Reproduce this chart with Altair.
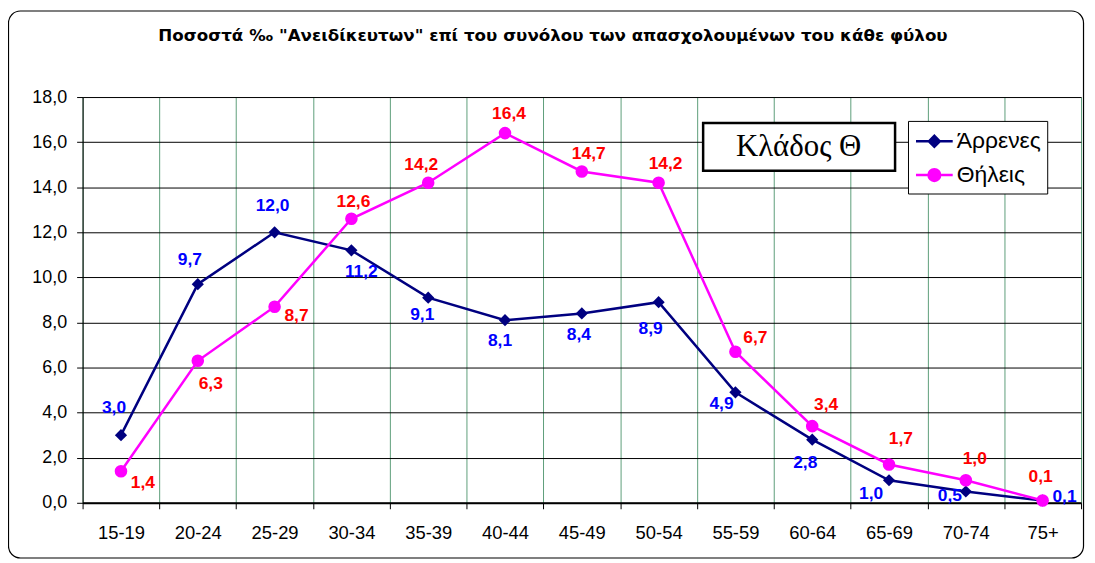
import altair as alt
import pandas as pd

TITLE = 'Ποσοστά ‰ "Ανειδίκευτων" επί του συνόλου των απασχολουμένων του κάθε φύλου'
BOX_TEXT = "Κλάδος Θ"
AGES = ["15-19", "20-24", "25-29", "30-34", "35-39", "40-44", "45-49",
        "50-54", "55-59", "60-64", "65-69", "70-74", "75+"]
SERIES = ["Άρρενες", "Θήλεις"]
MALES = [3.0, 9.7, 12.0, 11.2, 9.1, 8.1, 8.4, 8.9, 4.9, 2.8, 1.0, 0.5, 0.1]
FEMALES = [1.4, 6.3, 8.7, 12.6, 14.2, 16.4, 14.7, 14.2, 6.7, 3.4, 1.7, 1.0, 0.1]
Y_TICKS = [0, 2, 4, 6, 8, 10, 12, 14, 16, 18]

# label placement offsets (pixels, relative to each point)
MALE_LDX = [-7, -8, -2, 10, -6, -5, -3, -8, -14, -7, -18, -16, 22]
MALE_LDY = [-27, -24, -26, 22, 17, 21, 22, 27, 12, 23, 14, 5, -4]
FEMALE_LDX = [22, 13, 22, 2, -7, 4, 7, 7, 20, 14, 12, 9, -2]
FEMALE_LDY = [12, 23, 9, -17, -18, -19, -17, -19, -14, -21, -26, -21, -24]

rows = []
for vals, name, ldx, ldy in [(MALES, SERIES[0], MALE_LDX, MALE_LDY),
                             (FEMALES, SERIES[1], FEMALE_LDX, FEMALE_LDY)]:
    for a, v, dx, dy in zip(AGES, vals, ldx, ldy):
        rows.append({"age": a, "series": name, "value": v, "ldx": dx, "ldy": dy})
df = pd.DataFrame(rows)

LINE_COLORS = ["#000080", "#FF00FF"]
LABEL_COLORS = ["#0000FF", "#FF0000"]
SHAPES = ["diamond", "circle"]
SIZES = [150, 160]
LEGEND_PATHS = [
    "M-1.42,0L-0.42,0L0,-0.42L0.42,0L1.42,0L0.42,0L0,0.42L-0.42,0Z",
    "M-1.42,0L-0.45,0A0.45,0.45 0 1,1 0.45,0L1.42,0L0.45,0A0.45,0.45 0 1,1 -0.45,0Z",
]
FONT = "Liberation Sans, Arial"

W, H = 1004, 408

x_enc = alt.X("age:N", sort=AGES,
              scale=alt.Scale(type="band", domain=AGES, paddingInner=0, paddingOuter=0),
              axis=alt.Axis(title=None, labelAngle=0, tickBand="extent", grid=True,
                            gridColor="#5E9E7A", gridWidth=1,
                            domainColor="#000000", domainWidth=2,
                            tickColor="#000000", tickSize=6, tickWidth=1,
                            labelFont=FONT, labelFontSize=18.5, labelColor="#000000",
                            labelPadding=15))
y_enc = alt.Y("value:Q",
              scale=alt.Scale(domain=[0, 18], nice=False, zero=True),
              axis=alt.Axis(title=None, values=Y_TICKS, grid=True,
                            gridColor="#000000", gridWidth=1,
                            domainColor="#000000", domainWidth=1,
                            tickColor="#000000", tickSize=6, tickWidth=1,
                            labelFont=FONT, labelFontSize=18, labelColor="#000000",
                            labelPadding=10,
                            labelExpr="replace(format(datum.value, '.1f'), '.', ',')"))

base = alt.Chart(df)
layers = []
for i, s in enumerate(SERIES):
    sub = base.transform_filter(alt.datum.series == s)
    layers.append(sub.mark_line(color=LINE_COLORS[i], strokeWidth=2.5).encode(x=x_enc, y=y_enc))
for i, s in enumerate(SERIES):
    sub = base.transform_filter(alt.datum.series == s)
    layers.append(sub.mark_point(shape=SHAPES[i], filled=True, opacity=1,
                                 color=LINE_COLORS[i], size=SIZES[i]).encode(x=x_enc, y=y_enc))
for i, s in enumerate(SERIES):
    sub = base.transform_filter(alt.datum.series == s).transform_calculate(
        lbl="replace(format(datum.value, '.1f'), '.', ',')")
    layers.append(sub.mark_text(font=FONT, fontSize=17.5, fontWeight="bold",
                                color=LABEL_COLORS[i], align="center", baseline="middle",
                                dx={"expr": "datum.ldx"}, dy={"expr": "datum.ldy"}
                                ).encode(x=x_enc, y=y_enc, text="lbl:N"))

# legend layer (no marks drawn, only the legend)
leg = alt.Legend(title=None, orient="none", legendX=830, legendY=24,
                 fillColor="#FFFFFF", strokeColor="#000000", padding=6,
                 symbolSize=676, symbolStrokeWidth=2.5, symbolOffset=6,
                 labelFont=FONT, labelFontSize=23, labelColor="#000000",
                 labelOffset=8, rowPadding=7)
legend_layer = base.transform_filter("false").mark_point(filled=True, opacity=1).encode(
    fill=alt.Fill("series:N", scale=alt.Scale(domain=SERIES, range=LINE_COLORS), legend=leg),
    stroke=alt.Stroke("series:N", scale=alt.Scale(domain=SERIES, range=LINE_COLORS), legend=leg),
    shape=alt.Shape("series:N", scale=alt.Scale(domain=SERIES, range=LEGEND_PATHS), legend=leg),
)
layers.append(legend_layer)

one = alt.Chart(pd.DataFrame({"k": [0]}))
box = one.mark_rect(fill="#FFFFFF", stroke="#000000", strokeWidth=2.5).encode(
    x=alt.value(624), x2=alt.value(817), y=alt.value(26), y2=alt.value(74))
box_text = one.mark_text(font="Liberation Serif, Times New Roman", fontSize=31,
                         color="#000000", align="center", baseline="alphabetic").encode(
    x=alt.value(720), y=alt.value(59), text=alt.value(BOX_TEXT))
title = one.mark_text(font="DejaVu Sans", fontSize=16.8, fontWeight="bold", color="#000000",
                      align="center", baseline="middle").encode(
    x=alt.value(473), y=alt.value(-61), text=alt.value(TITLE))
border = one.mark_rect(fill=None, stroke="#000000", strokeWidth=1.2, cornerRadius=12).encode(
    x=alt.value(-74.5), x2=alt.value(1006.5), y=alt.value(-86.5), y2=alt.value(463.5))

layers += [box, box_text, title, border]

chart = alt.layer(*layers).properties(
    width=W, height=H,
    autosize=alt.AutoSizeParams(type="none"),
    padding={"left": 75, "top": 88, "right": 6, "bottom": 58},
).configure_view(fill="#C0C0C0", stroke="#808080", strokeWidth=1).configure(background="#FFFFFF")

chart.save("out.html", embed_options={"renderer": "svg", "actions": False})
